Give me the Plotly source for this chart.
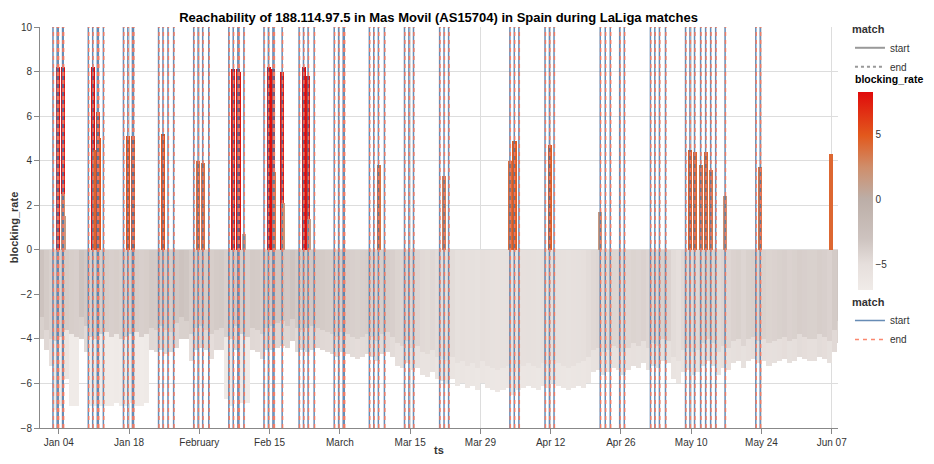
import pandas as pd
import plotly.graph_objects as go

# ==========================
# DATA
# ==========================

# daily baseline (negative) blocking rate, starting 2025-12-31 -- deepest hour of each day
neg_start = "2025-12-31 12:00"
neg_values = [
    -4.0, -4.5, -5.2, -7.2, -7.0, -5.8, -7.0,
    -7.0, -4.0, -4.6, -7.0, -7.0, -7.0, -7.0,
    -7.0, -6.9, -7.0, -7.0, -6.9, -7.0, -7.0,
    -6.9, -4.5, -4.6, -4.5, -4.7, -4.6, -4.4,
    -4.0, -4.0, -5.0, -4.5, -4.4, -4.5, -4.9,
    -4.5, -4.5, -6.7, -7.0, -4.5, -6.9, -6.9,
    -4.5, -4.6, -4.9, -4.5, -4.5, -4.4, -4.3,
    -4.4, -4.1, -4.6, -4.5, -4.6, -4.5, -4.4,
    -4.5, -4.6, -4.7, -4.8, -4.6, -4.7, -4.8,
    -4.9, -4.8, -4.7, -4.8, -5.0, -4.7, -4.6,
    -4.8, -5.2, -5.3, -5.1, -5.4, -5.3, -5.6,
    -5.7, -5.5, -5.8, -5.9, -6.0, -5.8, -6.1,
    -6.0, -6.2, -6.1, -6.3, -6.0, -6.2, -6.3,
    -6.4, -6.3, -6.2, -6.5, -6.3, -6.2, -6.1,
    -6.2, -6.3, -6.1, -6.2, -6.0, -6.1, -6.2,
    -6.3, -6.2, -6.1, -6.2, -6.0, -5.5, -5.4,
    -5.6, -5.5, -5.3, -5.4, -5.6, -5.4, -5.2,
    -5.3, -5.1, -5.4, -5.2, -5.3, -5.0, -5.1,
    -5.8, -6.0, -5.5, -5.4, -5.6, -5.5, -5.2,
    -5.0, -5.2, -5.6, -5.3, -5.4, -5.1, -5.0,
    -5.3, -5.0, -4.9, -5.1, -5.0, -5.2, -5.1,
    -5.0, -4.9, -5.1, -5.0, -4.8, -4.9, -5.0,
    -5.0, -4.8, -4.9, -5.1, -4.6, -4.2,
]

# shallowest hour of each day (darker bars on top)
shallow_values = [
    -3.0, -3.6, -4.0, -4.1, -3.9, -3.6, -3.8,
    -3.9, -3.0, -3.4, -3.9, -4.0, -3.8, -3.7,
    -3.9, -3.8, -4.0, -3.9, -3.8, -3.7, -3.9,
    -3.8, -3.5, -3.6, -3.4, -3.6, -3.7, -3.3,
    -3.0, -3.2, -3.8, -3.5, -3.4, -3.6, -3.8,
    -3.6, -3.5, -3.9, -4.0, -3.4, -3.8, -3.9,
    -3.5, -3.6, -3.8, -3.5, -3.4, -3.3, -3.2,
    -3.4, -3.1, -3.5, -3.6, -3.5, -3.4, -3.5,
    -3.6, -3.7, -3.8, -3.9, -3.7, -3.8, -3.9,
    -4.0, -3.9, -3.8, -3.9, -4.1, -3.8, -3.7,
    -3.9, -4.2, -4.3, -4.1, -4.4, -4.3, -4.6,
    -4.7, -4.5, -4.8, -4.9, -5.0, -4.8, -5.1,
    -5.0, -5.2, -5.1, -5.3, -5.0, -5.2, -5.3,
    -5.4, -5.3, -5.2, -5.5, -5.3, -5.2, -5.1,
    -5.2, -5.3, -5.1, -5.2, -5.0, -5.1, -5.2,
    -5.3, -5.2, -5.1, -5.0, -4.8, -4.5, -4.4,
    -4.6, -4.5, -4.3, -4.4, -4.6, -4.4, -4.2,
    -4.3, -4.1, -4.4, -4.2, -4.3, -4.0, -4.1,
    -4.8, -5.0, -4.5, -4.4, -4.6, -4.5, -4.2,
    -4.0, -4.2, -4.6, -4.3, -4.4, -4.1, -4.0,
    -4.3, -4.0, -3.9, -4.1, -4.0, -4.2, -4.1,
    -4.0, -3.9, -4.1, -4.0, -3.8, -3.9, -4.0,
    -4.0, -3.8, -3.9, -4.1, -3.6, -3.2,
]

# blocking during matches
pos_ts = [
    "2026-01-03 18:00", "2026-01-04 19:00", "2026-01-04 22:00", "2026-01-05 00:00",
    "2026-01-10 19:00", "2026-01-11 17:00", "2026-01-11 22:00", "2026-01-10 22:00",
    "2026-01-17 19:00", "2026-01-18 17:00",
    "2026-01-24 19:00",
    "2026-01-31 19:00", "2026-02-01 17:00",
    "2026-02-07 19:00", "2026-02-08 17:00", "2026-02-08 22:00", "2026-02-09 22:00",
    "2026-02-14 19:00", "2026-02-15 17:00", "2026-02-15 22:00", "2026-02-17 12:00", "2026-02-17 14:00",
    "2026-02-21 19:00", "2026-02-22 17:00", "2026-02-22 22:00",
    "2026-03-08 17:00",
    "2026-03-21 19:00",
    "2026-04-03 22:00", "2026-04-04 19:00",
    "2026-04-11 19:00",
    "2026-04-21 22:00",
    "2026-05-09 19:00", "2026-05-10 17:00", "2026-05-11 22:00", "2026-05-12 22:00", "2026-05-13 22:00",
    "2026-05-16 19:00",
    "2026-05-23 19:00",
    "2026-06-06 19:00",
]
pos_values = [
    8.2, 8.2, 2.5, 1.5,
    8.2, 6.2, 5.0, 4.5,
    5.1, 5.1,
    5.2,
    4.0, 3.9,
    8.1, 8.1, 8.0, 0.7,
    8.2, 8.1, 3.5, 8.0, 2.1,
    8.2, 7.8, 1.4,
    3.8,
    3.3,
    4.0, 4.9,
    4.7,
    1.7,
    4.5, 4.4, 3.8, 4.4, 3.6,
    2.4,
    3.7,
    4.3,
]

# match kick-off times (end = start + 2h)
match_start = [
    "2026-01-02 20:00", "2026-01-03 16:00", "2026-01-03 21:00", "2026-01-04 18:00", "2026-01-04 21:00",
    "2026-01-09 21:00", "2026-01-10 18:00", "2026-01-11 16:00", "2026-01-11 21:00", "2026-01-12 21:00",
    "2026-01-16 21:00", "2026-01-17 18:00", "2026-01-18 16:00", "2026-01-18 21:00",
    "2026-01-23 21:00", "2026-01-24 18:00", "2026-01-25 18:00", "2026-01-26 21:00",
    "2026-01-30 21:00", "2026-01-31 18:00", "2026-02-01 16:00", "2026-02-02 21:00",
    "2026-02-06 21:00", "2026-02-07 18:00", "2026-02-08 16:00", "2026-02-08 21:00", "2026-02-09 21:00",
    "2026-02-13 21:00", "2026-02-14 18:00", "2026-02-15 16:00", "2026-02-15 21:00", "2026-02-17 12:00",
    "2026-02-20 21:00", "2026-02-21 18:00", "2026-02-22 16:00", "2026-02-23 21:00",
    "2026-02-27 21:00", "2026-02-28 18:00", "2026-03-01 16:00", "2026-03-01 21:00",
    "2026-03-06 21:00", "2026-03-07 18:00", "2026-03-08 16:00", "2026-03-09 21:00",
    "2026-03-13 21:00", "2026-03-14 18:00", "2026-03-15 16:00",
    "2026-03-20 21:00", "2026-03-21 18:00", "2026-03-22 16:00",
    "2026-04-03 21:00", "2026-04-04 18:00", "2026-04-05 16:00",
    "2026-04-10 21:00", "2026-04-11 18:00", "2026-04-12 16:00",
    "2026-04-21 21:00", "2026-04-22 21:00", "2026-04-23 21:00", "2026-04-25 18:00", "2026-04-26 16:00",
    "2026-05-01 21:00", "2026-05-02 18:00", "2026-05-03 16:00", "2026-05-04 21:00",
    "2026-05-08 21:00", "2026-05-09 18:00", "2026-05-10 16:00", "2026-05-11 21:00",
    "2026-05-12 21:00", "2026-05-13 21:00", "2026-05-14 21:00",
    "2026-05-16 18:00",
    "2026-05-22 21:00", "2026-05-23 18:00",
]

tick_vals = ["2026-01-04", "2026-01-18", "2026-02-01", "2026-02-15", "2026-03-01", "2026-03-15",
             "2026-03-29", "2026-04-12", "2026-04-26", "2026-05-10", "2026-05-24", "2026-06-07"]
tick_text = ["Jan 04", "Jan 18", "February", "Feb 15", "March", "Mar 15",
             "Mar 29", "Apr 12", "Apr 26", "May 10", "May 24", "Jun 07"]

# ==========================
# BUILD
# ==========================

neg_ts = pd.date_range(neg_start, periods=len(neg_values), freq="D")
starts = pd.to_datetime(match_start)
ends = starts + pd.Timedelta(hours=2)

colorscale = [
    [0.0, "#f0ebe8"],
    [0.13, "#e6dfdc"],
    [0.26, "#cdc3bf"],
    [0.46, "#bcaea7"],
    [0.62, "#cf8e6b"],
    [0.78, "#e2591d"],
    [1.0, "#e00b0b"],
]
cmin, cmax = -7.0, 8.3
DAY = 86400000

fig = go.Figure()

for vals in (neg_values, shallow_values):
    fig.add_trace(go.Bar(
        x=neg_ts, y=vals, width=DAY,
        marker=dict(color=vals, colorscale=colorscale, cmin=cmin, cmax=cmax,
                    line_width=0, showscale=False),
        showlegend=False, hoverinfo="x+y",
    ))

fig.add_trace(go.Bar(
    x=pd.to_datetime(pos_ts), y=pos_values, width=DAY * 0.8,
    marker=dict(color=pos_values, colorscale=colorscale, cmin=cmin, cmax=cmax,
                line_width=0, showscale=True,
                colorbar=dict(
                    thickness=15, len=0.494, lenmode="fraction",
                    y=0.344, yanchor="bottom", x=1.025, xanchor="left", xpad=0, ypad=0,
                    outlinewidth=0, tickvals=[-5, 0, 5], ticks="",
                    tickfont=dict(size=10, color="#333"),
                )),
    showlegend=False, hoverinfo="x+y",
))


def vlines(times):
    xs, ys = [], []
    for t in times:
        xs += [t, t, None]
        ys += [-8, 10, None]
    return xs, ys


xs, ys = vlines(starts)
fig.add_trace(go.Scatter(x=xs, y=ys, mode="lines", name="start",
                         line=dict(color="#4c78a8", width=1.5), opacity=0.85))
xs, ys = vlines(ends)
fig.add_trace(go.Scatter(x=xs, y=ys, mode="lines", name="end",
                         line=dict(color="#fb7a5e", width=1.5, dash="4px,4px"), opacity=0.9))

# grey legend (dash style)
fig.add_trace(go.Scatter(x=[None], y=[None], mode="lines", name="start",
                         line=dict(color="#999", width=2), legend="legend2"))
fig.add_trace(go.Scatter(x=[None], y=[None], mode="lines", name="end",
                         line=dict(color="#999", width=2, dash="dot"), legend="legend2"))

# page has an 8px body margin, so the figure is drawn offset
fig.update_layout(
    width=926, height=448,
    margin=dict(l=32, r=96, t=19, b=28, autoexpand=False),
    plot_bgcolor="white", paper_bgcolor="white",
    font=dict(family="Liberation Sans, Arial", size=10, color="#333"),
    title=dict(text="<b>Reachability of 188.114.97.5 in Mas Movil (AS15704) in Spain during LaLiga matches</b>",
               x=0.465, xanchor="center", y=0.99, yanchor="top", font=dict(size=13, color="#000")),
    barmode="overlay", bargap=0,
    legend=dict(title=dict(text="<b>match</b>", font=dict(size=11)), x=1.015, xanchor="left",
                y=0.34, yanchor="top", font=dict(size=10), tracegroupgap=0, itemwidth=30,
                borderwidth=0),
    legend2=dict(title=dict(text="<b>match</b>", font=dict(size=11)), x=1.015, xanchor="left",
                 y=1.02, yanchor="top", font=dict(size=10), tracegroupgap=0, itemwidth=30),
    annotations=[dict(text="<b>blocking_rate</b>", xref="paper", yref="paper", x=1.019, y=0.85,
                      xanchor="left", yanchor="bottom", showarrow=False,
                      font=dict(size=10.5, color="#000"))],
)

fig.update_xaxes(
    range=["2025-12-31 06:00", "2026-06-08 06:00"],
    tickvals=tick_vals, ticktext=tick_text,
    showgrid=True, gridcolor="#ddd", ticks="outside", ticklen=5, tickcolor="#888",
    showline=True, linecolor="#888",
    title=dict(text="<b>ts</b>", font=dict(size=11), standoff=2),
)
fig.update_yaxes(
    range=[-8, 10], dtick=2, showgrid=True, gridcolor="#ddd", zeroline=False,
    ticks="outside", ticklen=5, tickcolor="#888", showline=True, linecolor="#888",
    title=dict(text="<b>blocking_rate</b>", font=dict(size=11), standoff=2),
)

fig.write_html("out.html")
